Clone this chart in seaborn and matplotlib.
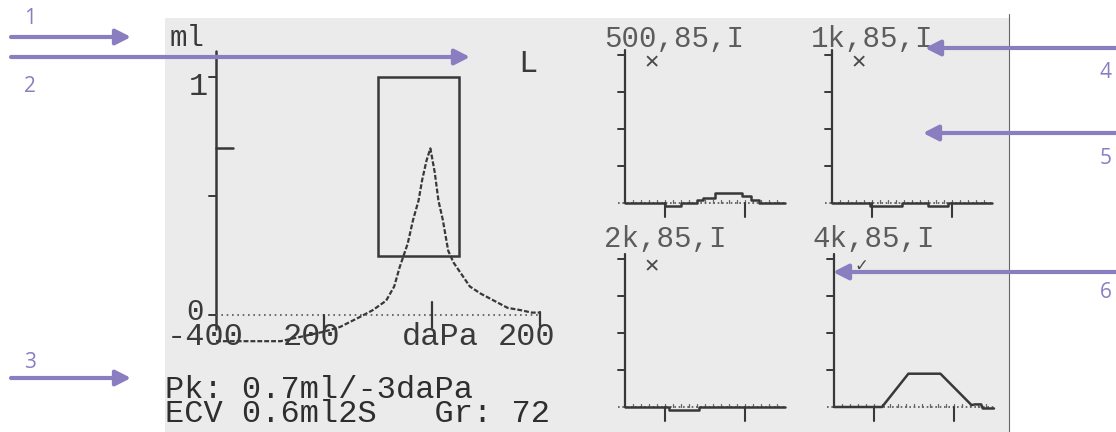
import matplotlib
matplotlib.use("Agg")
import matplotlib.pyplot as plt
import pandas as pd
import seaborn as sns
from matplotlib.patches import Rectangle, FancyArrowPatch, ArrowStyle
from matplotlib.lines import Line2D

# ---- tympanogram (pressure in daPa, compliance in ml) ----
pressure_dapa = [-400, -280, -200, -170, -135, -110, -85, -70, -60, -45, -35,
                 -25, -18, -10, -3, 5, 12, 20, 30, 40, 52, 70, 90, 115, 140,
                 165, 185, 200]
compliance_ml = [-0.11, -0.11, -0.07, -0.05, -0.01, 0.02, 0.06, 0.12, 0.20,
                 0.30, 0.40, 0.48, 0.57, 0.65, 0.70, 0.60, 0.48, 0.40, 0.27,
                 0.22, 0.18, 0.12, 0.09, 0.06, 0.03, 0.02, 0.01, 0.01]
peak_ml = 0.7
peak_dapa = -3
norm_pressure = [-100, 50]
norm_compliance = [0.25, 1.0]
pressure_ticks = [-400, -200, 0, 200]
pressure_labels = ["-400", "200", "daPa", "200"]
compliance_ticks = [0.0, 0.5, 1.0]
ear_label = "L"
summary_lines = ["Pk: 0.7ml/-3daPa", "ECV 0.6ml2S   Gr: 72"]

# ---- acoustic reflex traces (time in s, deflection in scale units) ----
reflex_titles = ["500,85,I", "1k,85,I", "2k,85,I", "4k,85,I"]
reflex_marks = ["\u2715", "\u2715", "\u2715", "\u2713"]
t_500 = [0.0, 0.5, 0.7, 0.9, 0.98, 1.12, 1.46, 1.57, 1.68, 2.0]
v_500 = [0.0, -0.08, 0.0, 0.07, 0.14, 0.26, 0.18, 0.09, 0.0, 0.0]
t_1k = [0.0, 0.47, 0.88, 1.2, 1.45, 2.0]
v_1k = [0.0, -0.08, 0.0, -0.08, 0.0, 0.0]
t_2k = [0.0, 0.55, 0.92, 2.0]
v_2k = [0.0, -0.09, 0.0, 0.0]
t_4k = [0.0, 0.6, 0.93, 1.33, 1.72, 1.76, 1.84, 1.86, 2.0]
v_4k = [0.0, 0.0, 0.9, 0.9, 0.05, 0.07, 0.07, -0.04, -0.04]
stim_on_off = [0.5, 1.5]
reflex_scale = [1, 2, 3, 4]

# ---- figure ----
W, H = 1116, 432
sns.set_theme(style="white")
plt.rcParams["font.family"] = ["Liberation Mono", "DejaVu Sans"]
fig = plt.figure(figsize=(W / 100, H / 100), dpi=100)
fig.patch.set_facecolor("white")

INK = "#383838"
TXT = "#3a3a3a"
LCD = "#ebebeb"
PURPLE = "#8a7ec0"
MONO = 23
TITLE = 21


def axes_px(x0, x1, y_top, y_bot):
    return fig.add_axes([x0 / W, 1 - y_bot / H, (x1 - x0) / W, (y_bot - y_top) / H])


def fig_xy(x, y):
    return (x / W, 1 - y / H)


# display background
fig.add_artist(Rectangle(fig_xy(165, 432), (1009 - 165) / W, (432 - 18) / H,
                         transform=fig.transFigure, facecolor=LCD,
                         edgecolor="none", zorder=0))
fig.add_artist(Line2D([1009 / W, 1009 / W], [0, 1 - 14 / H],
                      transform=fig.transFigure, color="#666666", lw=0.8))

# ---- tympanogram axes ----
px_per_dapa = 0.54
px_per_ml = 238
zero_y = 315
ax = axes_px(216, 216 + 600 * px_per_dapa,
             zero_y - 1.15 * px_per_ml, zero_y + 0.15 * px_per_ml)
ax.set_xlim(-400, 200)
ax.set_ylim(-0.15, 1.15)
ax.axis("off")

tymp = pd.DataFrame({"pressure": pressure_dapa, "compliance": compliance_ml})
sns.lineplot(data=tymp, x="pressure", y="compliance", ax=ax, color=INK,
             lw=1.6, linestyle=(0, (2.2, 0.9)), estimator=None, sort=False,
             clip_on=False)

# normal region box
ax.add_patch(Rectangle((norm_pressure[0], norm_compliance[0]),
                       norm_pressure[1] - norm_pressure[0],
                       norm_compliance[1] - norm_compliance[0],
                       fill=False, edgecolor=INK, lw=1.8, clip_on=False))

# compliance axis
ax.plot([-400, -400], [-0.06, 1.11], color=INK, lw=1.8, clip_on=False)
for c in compliance_ticks:
    ax.plot([-413, -400], [c, c], color=INK, lw=1.4, clip_on=False)
ax.plot([-400, -368], [peak_ml, peak_ml], color=INK, lw=1.8, clip_on=False)

# pressure axis (dotted zero line)
ax.plot([-400, 200], [0, 0], color="#555555", lw=1.2,
        linestyle=(0, (1, 2.2)), clip_on=False)
tick_spans = {-200: (0.0, -0.06), 0: (0.055, -0.055), 200: (0.012, -0.045)}
for p in pressure_ticks[1:]:
    lo, hi = tick_spans[p]
    ax.plot([p, p], [lo, hi], color=INK, lw=1.6, clip_on=False)

label_dx = {-400: -20, -200: -22, 0: 15, 200: -24}
for p, lab in zip(pressure_ticks, pressure_labels):
    ax.text(p + label_dx[p], -0.126, lab, ha="center", va="baseline",
            fontsize=MONO, color=TXT, clip_on=False)

ax.text(-439, -0.02, "0", ha="center", va="baseline", fontsize=MONO - 2,
        color=TXT, clip_on=False)
ax.text(-433, 0.924, "1", ha="center", va="baseline", fontsize=MONO,
        color=TXT, clip_on=False)
ax.text(-454, 1.13, "ml", ha="center", va="baseline", fontsize=TITLE,
        color=TXT, clip_on=False)
ax.text(178, 1.02, ear_label, ha="center", va="baseline", fontsize=MONO,
        color=TXT, clip_on=False)

# peak / volume summary, two tightly stacked lines (baseline of the last line)
fig.text(165 / W, 1 - 422 / H, "\n".join(summary_lines), ha="left",
         va="baseline", fontsize=MONO, color="#2e2e2e", linespacing=0.72)

# ---- reflex panels ----
px_per_s = 80
px_per_unit = 37
panels = [
    (625, 203, 604, 47, t_500, v_500, "steps-post", 3.8, 14),
    (832, 203, 811, 47, t_1k, v_1k, "steps-post", 3.8, 14),
    (625, 407, 604, 247, t_2k, v_2k, "steps-post", 3.8, 14),
    (834, 407, 812, 247, t_4k, v_4k, "default", 3.82, 12),
]
for (x0, base, tx, ty, tt, vv, style, mark_v, mark_fs), title, mark in zip(
        panels, reflex_titles, reflex_marks):
    rax = axes_px(x0 - 0.15 * px_per_s, x0 + 2.1 * px_per_s,
                  base - 4.3 * px_per_unit, base + 0.5 * px_per_unit)
    rax.set_xlim(-0.15, 2.1)
    rax.set_ylim(-0.5, 4.3)
    rax.axis("off")

    # time axis: dotted baseline, minor ticks, stimulus on/off marks
    rax.plot([-0.09, 2.0], [0, 0], color="#555555", lw=1.2,
             linestyle=(0, (1, 1.6)), clip_on=False)
    for i in range(1, 20):
        rax.plot([i / 10, i / 10], [0, 0.09], color="#666666", lw=0.9,
                 clip_on=False)
    for s in stim_on_off:
        rax.plot([s, s], [0, -0.38], color=INK, lw=1.5, clip_on=False)

    # deflection axis
    rax.plot([0, 0], [0, 4.14], color=INK, lw=1.6, clip_on=False)
    for u in reflex_scale:
        rax.plot([-0.09, 0], [u, u], color=INK, lw=1.4, clip_on=False)

    trace = pd.DataFrame({"t": tt, "v": vv})
    sns.lineplot(data=trace, x="t", y="v", ax=rax, color=INK, lw=1.8,
                 estimator=None, sort=False, drawstyle=style, clip_on=False)
    rax.set_xlabel("")
    rax.set_ylabel("")

    rax.text(0.34, mark_v, mark, ha="center", va="center", fontsize=mark_fs,
             color="#4a4a4a", family="DejaVu Sans", fontweight="bold",
             zorder=12)

    fig.text(tx / W, 1 - ty / H, title, ha="left", va="baseline",
             fontsize=TITLE, color="#5c5c5c")

ax.set_xlabel("")
ax.set_ylabel("")


# ---- callout arrows ----
def arrow(x_from, x_to, y):
    fig.add_artist(FancyArrowPatch(fig_xy(x_from, y), fig_xy(x_to, y),
                                   transform=fig.transFigure,
                                   arrowstyle=ArrowStyle("-|>", head_length=9,
                                                         head_width=4.6),
                                   mutation_scale=1, lw=3, color=PURPLE,
                                   shrinkA=0, shrinkB=0, zorder=10))


arrow(11, 131, 37)
arrow(11, 470, 57)
arrow(11, 131, 378)
arrow(1116, 925, 48)
arrow(1116, 923, 133)
arrow(1116, 833, 272)

for num, (x, y) in zip(["1", "2", "3", "4", "5", "6"],
                       [(30, 19), (30, 87), (30, 363),
                        (1106, 73), (1106, 158), (1106, 293)]):
    fig.text(x / W, 1 - y / H, num, ha="center", va="center", fontsize=15,
             color=PURPLE, family="Open Sans")

fig.savefig("out.png", dpi=100)
